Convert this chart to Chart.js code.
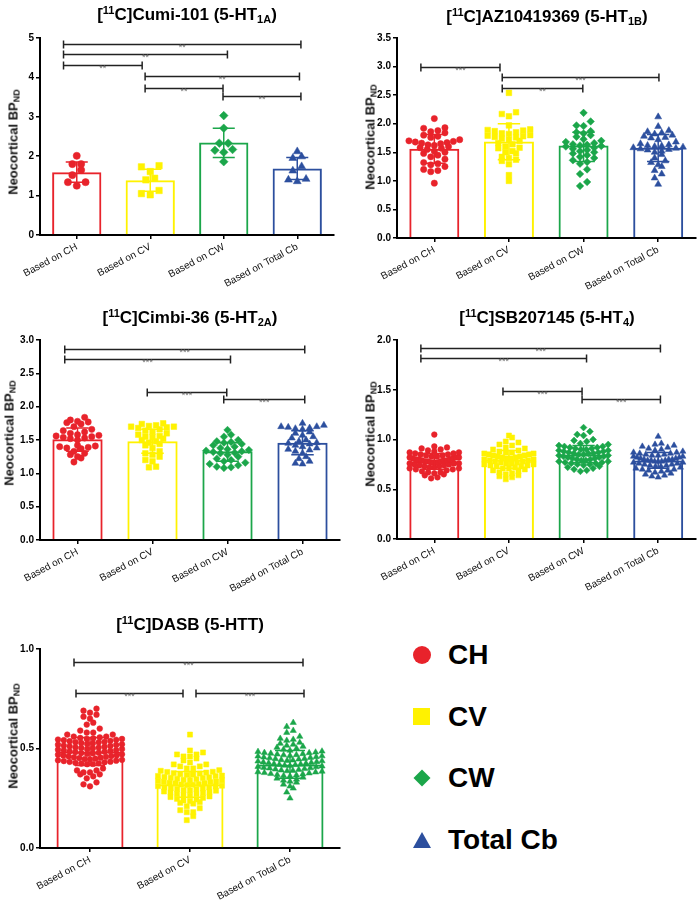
<!DOCTYPE html>
<html>
<head>
<meta charset="utf-8">
<script src="https://cdn.jsdelivr.net/npm/chart.js@4.4.1/dist/chart.umd.min.js"></script>
<style>
body { margin: 0; background: #fff; font-family: "Liberation Sans", Arial, sans-serif; }
#page { position: relative; width: 700px; height: 905px; overflow: hidden; }
.panel { position: absolute; }
.panel canvas { position: absolute; left: 0; top: 0; }
.title { position: absolute; width: 320px; text-align: center; font-weight: bold; font-size: 17px; line-height: 20px; color: #000; white-space: nowrap; }
.title sup { font-size: 11px; line-height: 0; vertical-align: 6px; }
.title sub { font-size: 11px; line-height: 0; vertical-align: -3px; }
.ylab { position: absolute; font-weight: bold; font-size: 13px; color: #111; white-space: nowrap; transform: translate(-50%, -50%) rotate(-90deg); }
.ylab sub { font-size: 9px; line-height: 0; vertical-align: -2px; }
.leg { position: absolute; left: 410px; height: 30px; display: flex; align-items: center; font-weight: bold; font-size: 28px; color: #000; }
.leg .mk { width: 24px; height: 24px; position: relative; margin-right: 14px; }
.mk i { position: absolute; display: block; }
</style>
</head>
<body>
<div id="page">
  <div class="panel" id="p1" style="left:0;top:0;width:350px;height:300px">
    <canvas id="c1" width="350" height="300"></canvas>
    <div class="title" style="left:27px;top:5px">[<sup>11</sup>C]Cumi-101 (5-HT<sub>1A</sub>)</div>
    <div class="ylab" style="left:13px;top:142px">Neocortical BP<sub>ND</sub></div>
  </div>
  <div class="panel" id="p2" style="left:350px;top:0;width:350px;height:300px">
    <canvas id="c2" width="350" height="300"></canvas>
    <div class="title" style="left:37px;top:7px">[<sup>11</sup>C]AZ10419369 (5-HT<sub>1B</sub>)</div>
    <div class="ylab" style="left:20px;top:137px">Neocortical BP<sub>ND</sub></div>
  </div>
  <div class="panel" id="p3" style="left:0;top:300px;width:350px;height:300px">
    <canvas id="c3" width="350" height="300"></canvas>
    <div class="title" style="left:30px;top:8px">[<sup>11</sup>C]Cimbi-36 (5-HT<sub>2A</sub>)</div>
    <div class="ylab" style="left:9px;top:133px">Neocortical BP<sub>ND</sub></div>
  </div>
  <div class="panel" id="p4" style="left:350px;top:300px;width:350px;height:300px">
    <canvas id="c4" width="350" height="300"></canvas>
    <div class="title" style="left:37px;top:8px">[<sup>11</sup>C]SB207145 (5-HT<sub>4</sub>)</div>
    <div class="ylab" style="left:20px;top:134px">Neocortical BP<sub>ND</sub></div>
  </div>
  <div class="panel" id="p5" style="left:0;top:600px;width:350px;height:305px">
    <canvas id="c5" width="350" height="305"></canvas>
    <div class="title" style="left:30px;top:15px">[<sup>11</sup>C]DASB (5-HTT)</div>
    <div class="ylab" style="left:13px;top:136px">Neocortical BP<sub>ND</sub></div>
  </div>

  <div class="leg" style="top:640px"><span class="mk"><i style="left:3px;top:3px;width:18px;height:18px;border-radius:50%;background:#e8232b"></i></span>CH</div>
  <div class="leg" style="top:702px"><span class="mk"><i style="left:3px;top:3px;width:17px;height:17px;background:#fff200"></i></span>CV</div>
  <div class="leg" style="top:763px"><span class="mk"><i style="left:6px;top:6px;width:12px;height:12px;background:#1ba64a;transform:rotate(45deg)"></i></span>CW</div>
  <div class="leg" style="top:825px"><span class="mk"><i style="left:3px;top:4px;width:0;height:0;border-left:9px solid transparent;border-right:9px solid transparent;border-bottom:16px solid #2c4f9e"></i></span>Total Cb</div>
</div>

<script>
// Regional reference comparisons, neocortical BPnd

const FONT = '"Liberation Sans", Arial, sans-serif';
const RED = '#e8232b', YELLOW = '#fff200', GREEN = '#1ba64a', BLUE = '#2c4f9e';

const CATS4 = ['Based on CH', 'Based on CV', 'Based on CW', 'Based on Total Cb'];
const CATS3 = ['Based on CH', 'Based on CV', 'Based on Total Cb'];

// [11C]Cumi-101
const cumiCH = [2.01, 1.80, 1.80, 1.65, 1.52, 1.34, 1.34, 1.25];
const cumiCV = [1.76, 1.73, 1.61, 1.44, 1.40, 1.13, 1.05, 1.02];
const cumiCW = [3.03, 2.71, 2.33, 2.33, 2.17, 2.15, 2.10, 1.86];
const cumiTotal = [2.12, 1.99, 1.95, 1.74, 1.63, 1.42, 1.40, 1.36];
const cumiMean = [1.59, 1.39, 2.35, 1.69];
const cumiSdHi = [1.85, 1.67, 2.71, 1.97];
const cumiSdLo = [1.34, 1.11, 1.97, 1.41];
const cumiSig = [[-0.18, 3.05, 4.85, '**'], [-0.18, 2.05, 4.59, '**'], [-0.18, 0.89, 4.32, '**'],
                 [0.93, 3.03, 4.03, '**'], [0.93, 1.99, 3.74, '**'], [1.99, 3.05, 3.54, '**']];

// [11C]AZ10419369
const azCH = [2.09, 1.93, 1.92, 1.88, 1.86, 1.84, 1.80, 1.78, 1.76, 1.72, 1.70, 1.69, 1.68, 1.67, 1.66, 1.65, 1.63, 1.62,
              1.60, 1.58, 1.57, 1.55, 1.52, 1.50, 1.48, 1.45, 1.42, 1.38, 1.32, 1.30, 1.28, 1.25, 1.20, 1.18, 1.16, 0.96];
const azCV = [2.54, 2.20, 2.17, 2.13, 1.97, 1.90, 1.89, 1.88, 1.87, 1.85, 1.83, 1.82, 1.80, 1.79, 1.78, 1.77, 1.76, 1.74,
              1.72, 1.70, 1.66, 1.64, 1.60, 1.58, 1.57, 1.52, 1.50, 1.48, 1.42, 1.40, 1.37, 1.35, 1.29, 1.10, 1.00];
const azCW = [2.19, 2.04, 1.97, 1.96, 1.87, 1.85, 1.83, 1.80, 1.77, 1.73, 1.70, 1.68, 1.66, 1.64, 1.63, 1.62, 1.61, 1.60,
              1.58, 1.56, 1.54, 1.52, 1.50, 1.48, 1.45, 1.42, 1.40, 1.36, 1.33, 1.30, 1.20, 1.12, 0.98, 0.91];
const azTotal = [2.12, 1.95, 1.88, 1.86, 1.84, 1.82, 1.80, 1.78, 1.76, 1.75, 1.72, 1.68, 1.65, 1.63, 1.62, 1.61, 1.60, 1.59,
                 1.58, 1.57, 1.56, 1.55, 1.54, 1.52, 1.50, 1.46, 1.40, 1.35, 1.32, 1.28, 1.25, 1.18, 1.12, 1.05, 0.94];
const azMean = [1.56, 1.69, 1.62, 1.58];
const azSdHi = [1.81, 2.00, 1.85, 1.81];
const azSdLo = [1.31, 1.37, 1.34, 1.34];
const azSig = [[-0.18, 0.88, 3.0, '***'], [0.91, 3.01, 2.81, '***'], [0.91, 1.99, 2.62, '**']];

// [11C]Cimbi-36
const cimbiCH = [1.84, 1.80, 1.78, 1.77, 1.76, 1.74, 1.70, 1.66, 1.64, 1.62, 1.60, 1.58, 1.57, 1.56, 1.55, 1.54,
                 1.53, 1.52, 1.50, 1.42, 1.41, 1.40, 1.39, 1.38, 1.37, 1.33, 1.30, 1.28, 1.25, 1.23, 1.17];
const cimbiCV = [1.75, 1.74, 1.72, 1.71, 1.70, 1.70, 1.69, 1.68, 1.66, 1.64, 1.62, 1.60, 1.58, 1.56, 1.55, 1.54,
                 1.52, 1.50, 1.48, 1.46, 1.44, 1.42, 1.38, 1.33, 1.30, 1.28, 1.25, 1.20, 1.18, 1.10, 1.09];
const cimbiCW = [1.65, 1.58, 1.55, 1.50, 1.48, 1.47, 1.46, 1.44, 1.42, 1.40, 1.38, 1.36, 1.35, 1.34, 1.33,
                 1.32, 1.31, 1.30, 1.28, 1.25, 1.22, 1.20, 1.18, 1.16, 1.14, 1.12, 1.10, 1.09, 1.08];
const cimbiTotal = [1.75, 1.72, 1.70, 1.70, 1.69, 1.68, 1.67, 1.66, 1.62, 1.60, 1.57, 1.55, 1.53, 1.50, 1.48,
                    1.46, 1.45, 1.44, 1.42, 1.40, 1.38, 1.36, 1.35, 1.33, 1.30, 1.25, 1.22, 1.18, 1.15, 1.14];
const cimbiMean = [1.51, 1.48, 1.33, 1.46];
const cimbiSdHi = [1.68, 1.66, 1.46, 1.64];
const cimbiSdLo = [1.33, 1.30, 1.18, 1.28];
const cimbiSig = [[-0.17, 3.03, 2.87, '***'], [-0.17, 2.04, 2.72, '***'], [0.93, 1.99, 2.22, '***'], [1.95, 3.03, 2.12, '***']];

// [11C]SB207145
const sbCH = [1.05, 0.93, 0.92, 0.91, 0.90, 0.89, 0.88, 0.87, 0.87, 0.86, 0.86, 0.85, 0.85, 0.84, 0.84, 0.83, 0.83,
              0.82, 0.82, 0.82, 0.81, 0.81, 0.80, 0.80, 0.80, 0.79, 0.79, 0.79, 0.78, 0.78, 0.78, 0.77, 0.77, 0.77,
              0.76, 0.76, 0.76, 0.75, 0.75, 0.74, 0.74, 0.73, 0.73, 0.72, 0.72, 0.71, 0.71, 0.70, 0.70, 0.69,
              0.68, 0.67, 0.67, 0.66, 0.65, 0.64, 0.62, 0.61];
const sbCV = [1.04, 1.02, 0.98, 0.97, 0.95, 0.94, 0.92, 0.91, 0.90, 0.89, 0.88, 0.87, 0.87, 0.86, 0.86, 0.85, 0.85,
              0.84, 0.84, 0.83, 0.83, 0.82, 0.82, 0.81, 0.81, 0.80, 0.80, 0.79, 0.79, 0.78, 0.78, 0.77, 0.77, 0.76,
              0.76, 0.75, 0.75, 0.74, 0.74, 0.73, 0.73, 0.72, 0.71, 0.71, 0.70, 0.69, 0.68, 0.67, 0.66, 0.65,
              0.64, 0.63, 0.62, 0.60];
const sbCW = [1.12, 1.08, 1.05, 1.04, 1.00, 0.99, 0.98, 0.96, 0.95, 0.94, 0.93, 0.93, 0.92, 0.92, 0.91, 0.91, 0.90,
              0.90, 0.89, 0.89, 0.88, 0.88, 0.87, 0.87, 0.86, 0.86, 0.86, 0.85, 0.85, 0.84, 0.84, 0.83, 0.83, 0.82,
              0.82, 0.81, 0.81, 0.80, 0.80, 0.79, 0.79, 0.78, 0.78, 0.77, 0.77, 0.76, 0.76, 0.75, 0.75, 0.74,
              0.73, 0.72, 0.71, 0.70, 0.69, 0.68];
const sbTotal = [1.03, 0.96, 0.95, 0.94, 0.93, 0.92, 0.91, 0.90, 0.89, 0.88, 0.87, 0.87, 0.86, 0.86, 0.85, 0.85,
                 0.84, 0.84, 0.83, 0.83, 0.82, 0.82, 0.81, 0.81, 0.80, 0.80, 0.80, 0.79, 0.79, 0.79, 0.78, 0.78,
                 0.78, 0.77, 0.77, 0.76, 0.76, 0.75, 0.75, 0.74, 0.74, 0.73, 0.73, 0.72, 0.71, 0.70, 0.70, 0.69,
                 0.69, 0.68, 0.67, 0.66, 0.65, 0.64, 0.63, 0.62];
const sbMean = [0.78, 0.80, 0.85, 0.79];
const sbSdHi = [0.86, 0.89, 0.94, 0.87];
const sbSdLo = [0.70, 0.71, 0.77, 0.71];
const sbSig = [[-0.18, 3.03, 1.92, '***'], [-0.18, 2.04, 1.82, '***'], [0.92, 1.98, 1.49, '***'], [1.98, 3.03, 1.41, '***']];

// [11C]DASB
const dasbCH = [0.70, 0.69, 0.68, 0.67, 0.66, 0.65, 0.63, 0.62, 0.60, 0.59, 0.58, 0.58, 0.57, 0.57, 0.56, 0.56,
                0.556, 0.553, 0.551, 0.549, 0.548, 0.545, 0.544, 0.542, 0.539, 0.537, 0.534, 0.532, 0.531, 0.528,
                0.526, 0.524, 0.521, 0.519, 0.518, 0.515, 0.513, 0.511, 0.509, 0.506, 0.505, 0.503, 0.501, 0.498,
                0.497, 0.494, 0.492, 0.491, 0.488, 0.486, 0.484, 0.482, 0.479, 0.477, 0.476, 0.473, 0.471, 0.469,
                0.466, 0.465, 0.462, 0.461, 0.458, 0.456, 0.454, 0.452, 0.449, 0.447, 0.446, 0.443, 0.441, 0.439,
                0.437, 0.434, 0.433, 0.431, 0.428, 0.426, 0.424, 0.422, 0.421,
                0.40, 0.39, 0.39, 0.38, 0.38, 0.37, 0.37, 0.36, 0.35, 0.33, 0.32, 0.31];
const dasbCV = [0.57, 0.49, 0.48, 0.47, 0.47, 0.46, 0.46, 0.45, 0.44, 0.43, 0.42, 0.42, 0.41, 0.41, 0.40, 0.40,
                0.391, 0.388, 0.383, 0.382, 0.379, 0.376, 0.374, 0.371, 0.369, 0.368, 0.364, 0.362, 0.361, 0.357,
                0.355, 0.353, 0.352, 0.348, 0.346, 0.343, 0.341, 0.340, 0.338, 0.334, 0.333, 0.331, 0.328, 0.326,
                0.325, 0.321, 0.319, 0.318, 0.316, 0.313, 0.311, 0.309, 0.305, 0.304, 0.301, 0.299, 0.297, 0.294,
                0.291, 0.289, 0.288, 0.284, 0.282, 0.279, 0.276, 0.273, 0.271, 0.268, 0.263, 0.259, 0.256, 0.252,
                0.247, 0.244, 0.239, 0.236, 0.231, 0.227, 0.223,
                0.21, 0.20, 0.19, 0.18, 0.18, 0.16, 0.14];
const dasbTotal = [0.63, 0.61, 0.59, 0.58, 0.56, 0.55, 0.545, 0.54, 0.53, 0.525, 0.52, 0.515, 0.51, 0.505, 0.50, 0.495, 0.49,
                   0.486, 0.484, 0.481, 0.479, 0.478, 0.475, 0.473, 0.471, 0.468, 0.467, 0.464, 0.462, 0.461, 0.458,
                   0.456, 0.454, 0.452, 0.449, 0.448, 0.446, 0.443, 0.441, 0.439, 0.437, 0.436, 0.433, 0.431, 0.429,
                   0.427, 0.425, 0.423, 0.421, 0.419, 0.418, 0.415, 0.413, 0.411, 0.409, 0.407, 0.404, 0.402, 0.401,
                   0.398, 0.396, 0.394, 0.391, 0.389, 0.387, 0.385, 0.382, 0.381, 0.378, 0.376, 0.373, 0.371, 0.368,
                   0.366, 0.363, 0.361,
                   0.355, 0.35, 0.345, 0.34, 0.335, 0.33, 0.32, 0.31, 0.30, 0.28, 0.25];
const dasbMean = [0.485, 0.32, 0.42];
const dasbSdHi = [0.555, 0.385, 0.49];
const dasbSdLo = [0.415, 0.255, 0.35];
const dasbSig = [[-0.16, 2.13, 0.933, '***'], [-0.14, 0.93, 0.778, '***'], [1.06, 2.14, 0.778, '***']];

// spread points sideways in rows of similar value, lowest in the middle
function swarm(values, pos, bin, step, span) {
    const sorted = values.slice().sort((a, b) => a - b);
    const pts = [];
    let i = 0;
    while (i < sorted.length) {
        let j = i;
        while (j < sorted.length && sorted[j] - sorted[i] < bin) j++;
        const row = sorted.slice(i, j);
        const n = row.length;
        const d = (n - 1) * step > span ? span / (n - 1) : step;
        const slots = [];
        for (let k = 0; k < n; k++) slots.push((k - (n - 1) / 2) * d);
        slots.sort((a, b) => Math.abs(a) - Math.abs(b));
        row.forEach((v, k) => pts.push({ x: pos + slots[k], y: v }));
        i = j;
    }
    return pts;
}

function overlay(colors, means, sdLo, sdHi, sig) {
    return {
        id: 'overlay',
        afterDatasetsDraw(chart) {
            const ctx = chart.ctx;
            const xs = chart.scales.x2, ys = chart.scales.y;
            ctx.save();
            ctx.lineWidth = 1.5;
            means.forEach((m, i) => {
                const cx = xs.getPixelForValue(i);
                const half = xs.getPixelForValue(i + 0.15) - cx;
                const top = ys.getPixelForValue(sdHi[i]);
                const bot = ys.getPixelForValue(sdLo[i]);
                ctx.strokeStyle = colors[i];
                ctx.beginPath();
                ctx.moveTo(cx, top); ctx.lineTo(cx, bot);
                ctx.moveTo(cx - half, top); ctx.lineTo(cx + half, top);
                ctx.moveTo(cx - half, bot); ctx.lineTo(cx + half, bot);
                ctx.stroke();
            });
            ctx.strokeStyle = '#222';
            ctx.fillStyle = '#666';
            ctx.font = '9px ' + FONT;
            ctx.textAlign = 'center';
            sig.forEach(([a, b, lvl, stars]) => {
                const x1 = xs.getPixelForValue(a), x2 = xs.getPixelForValue(b);
                const yy = Math.round(ys.getPixelForValue(lvl)) + 0.5;
                ctx.beginPath();
                ctx.moveTo(x1, yy); ctx.lineTo(x2, yy);
                ctx.moveTo(x1, yy - 4); ctx.lineTo(x1, yy + 4);
                ctx.moveTo(x2, yy - 4); ctx.lineTo(x2, yy + 4);
                ctx.stroke();
                ctx.fillText(stars, (x1 + x2) / 2, yy + 5);
            });
            ctx.restore();
        }
    };
}

function makePanel(id, cats, groups, means, sdLo, sdHi, sig, yMax, yStep, geo, sw) {
    const colors = groups.map(g => g.color);
    const datasets = groups.map((g, i) => ({
        type: 'scatter',
        xAxisID: 'x2',
        yAxisID: 'y',
        order: 0,
        data: swarm(g.values, i, sw.bin, sw.step, sw.span),
        pointStyle: g.style,
        pointRadius: g.r * sw.size,
        backgroundColor: g.color,
        borderColor: g.color,
        borderWidth: 0.5
    }));
    datasets.push({
        type: 'bar',
        xAxisID: 'x',
        yAxisID: 'y',
        order: 1,
        grouped: false,
        data: means,
        backgroundColor: 'rgba(0,0,0,0)',
        borderColor: colors,
        borderWidth: 2,
        borderSkipped: 'start',
        barPercentage: 0.67,
        categoryPercentage: 1
    });

    new Chart(document.getElementById(id), {
        type: 'bar',
        data: { labels: cats, datasets: datasets },
        options: {
            responsive: false,
            animation: false,
            events: [],
            layout: { padding: { top: geo.T, right: geo.w - geo.R, left: 0, bottom: 0 } },
            plugins: { legend: { display: false }, tooltip: { enabled: false } },
            scales: {
                x: {
                    type: 'category',
                    offset: true,
                    border: { color: '#000', width: 2 },
                    grid: { display: true, drawOnChartArea: false, drawTicks: true, tickLength: 4, color: '#000', lineWidth: 1.5, offset: false },
                    ticks: { font: { family: FONT, size: 10 }, color: '#111', minRotation: 28, maxRotation: 28, autoSkip: false, padding: 2 },
                    afterFit: s => { s.height = geo.h - geo.B; }
                },
                x2: { type: 'linear', display: false, offset: false, grid: { offset: false }, min: -0.5, max: cats.length - 0.5 },
                y: {
                    min: 0,
                    max: yMax,
                    border: { color: '#000', width: 2 },
                    grid: { drawOnChartArea: false, drawTicks: true, tickLength: 4, color: '#000', lineWidth: 1.5 },
                    ticks: {
                        stepSize: yStep,
                        font: { family: FONT, size: 10, weight: 'bold' },
                        color: '#000',
                        padding: 2,
                        callback: v => yStep < 1 ? v.toFixed(1) : String(v)
                    },
                    afterFit: s => { s.width = geo.L; }
                }
            }
        },
        plugins: [overlay(colors, means, sdLo, sdHi, sig)]
    });
}

const circ = (values, color) => ({ values, color, style: 'circle', r: 3.0 });
const sq = (values, color) => ({ values, color, style: 'rect', r: 3.8 });
const dia = (values, color) => ({ values, color, style: 'rectRot', r: 3.6 });
const tri = (values, color) => ({ values, color, style: 'triangle', r: 3.8 });

makePanel('c1', CATS4,
    [circ(cumiCH, RED), sq(cumiCV, YELLOW), dia(cumiCW, GREEN), tri(cumiTotal, BLUE)],
    cumiMean, cumiSdLo, cumiSdHi, cumiSig, 5, 1,
    { w: 350, h: 300, L: 40, R: 334, T: 38, B: 235 },
    { bin: 0.15, step: 0.12, span: 0.6, size: 1.2 });

makePanel('c2', CATS4,
    [circ(azCH, RED), sq(azCV, YELLOW), dia(azCW, GREEN), tri(azTotal, BLUE)],
    azMean, azSdLo, azSdHi, azSig, 3.5, 0.5,
    { w: 350, h: 300, L: 47, R: 348, T: 38, B: 238 },
    { bin: 0.1, step: 0.095, span: 0.68, size: 1.05 });

makePanel('c3', CATS4,
    [circ(cimbiCH, RED), sq(cimbiCV, YELLOW), dia(cimbiCW, GREEN), tri(cimbiTotal, BLUE)],
    cimbiMean, cimbiSdLo, cimbiSdHi, cimbiSig, 3, 0.5,
    { w: 350, h: 300, L: 40, R: 340, T: 40, B: 240 },
    { bin: 0.08, step: 0.095, span: 0.68, size: 1.05 });

makePanel('c4', CATS4,
    [circ(sbCH, RED), sq(sbCV, YELLOW), dia(sbCW, GREEN), tri(sbTotal, BLUE)],
    sbMean, sbSdLo, sbSdHi, sbSig, 2, 0.5,
    { w: 350, h: 300, L: 47, R: 348, T: 40, B: 239 },
    { bin: 0.05, step: 0.085, span: 0.66, size: 0.95 });

makePanel('c5', CATS3,
    [circ(dasbCH, RED), sq(dasbCV, YELLOW), tri(dasbTotal, GREEN)],
    dasbMean, dasbSdLo, dasbSdHi, dasbSig, 1, 0.5,
    { w: 350, h: 305, L: 40, R: 340, T: 49, B: 248 },
    { bin: 0.025, step: 0.065, span: 0.64, size: 0.95 });
</script>
</body>
</html>
